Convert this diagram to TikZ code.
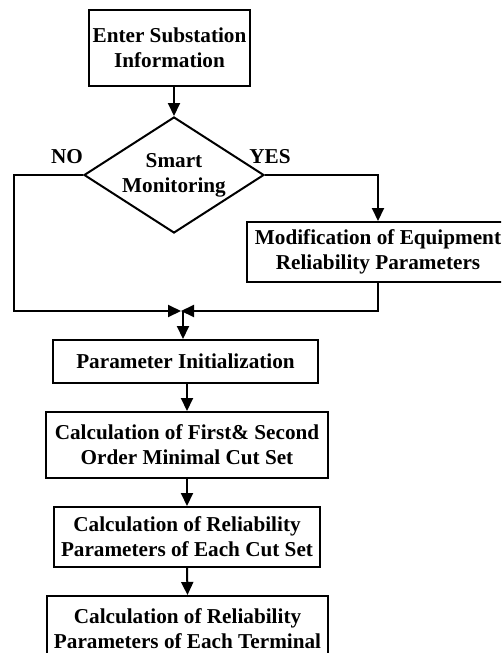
\documentclass[tikz,border=0pt]{standalone}
\usepackage{fontspec}
\setmainfont{Liberation Serif}
\usetikzlibrary{arrows.meta,shapes.geometric}
\begin{document}
\begin{tikzpicture}[x=1pt,y=-1pt,
  every node/.style={font=\bfseries\fontsize{21.2}{25}\selectfont},
  box/.style={draw, line width=2pt, align=center, inner sep=0pt},
  conn/.style={line width=2pt},
  arr/.style={line width=2pt, -{Triangle[length=13pt,width=12pt]}}]
\useasboundingbox (0,0) rectangle (501,653);
\clip (0,0) rectangle (501,653);
\node[box, minimum width=161pt, minimum height=76pt] (b1) at (169.5,48) {Enter Substation\\Information};
\node[diamond, draw, line width=2pt, minimum width=180pt, minimum height=116pt, inner sep=0pt] (d) at (174,175) {};
\node[align=center, inner sep=0pt] (dt) at (174,175.5) {Smart\\Monitoring};
\node[inner sep=0pt] (no) at (67,157) {NO};
\node[inner sep=0pt] (yes) at (270,157) {YES};
\node[box, minimum width=262pt, minimum height=60pt] (mod) at (378,252) {Modification of Equipment\\Reliability Parameters};
\coordinate (J) at (183,311);
\coordinate (L) at (14,175);
\node[box, minimum width=265pt, minimum height=43pt] (pinit) at (185.5,361.5) {Parameter Initialization};
\node[box, minimum width=282pt, minimum height=66pt] (c1) at (187,445) {Calculation of First\& Second\\Order Minimal Cut Set};
\node[box, minimum width=266pt, minimum height=60pt] (c2) at (187,537) {Calculation of Reliability\\Parameters of Each Cut Set};
\node[box, minimum width=281pt, minimum height=65pt] (c3) at (187.5,628.5) {Calculation of Reliability\\Parameters of Each Terminal};
\draw[arr] (b1.south -| d.north) -- (d.north);
\draw[arr, shorten >=2pt] (d.west) -- (L) |- (J);
\draw[arr] (d.east) -| (mod.north);
\draw[arr, shorten >=-2pt] (mod.south) |- (J);
\draw[arr] (J) -- (J |- pinit.north);
\draw[arr] (pinit.south -| c1.north) -- (c1.north);
\draw[arr] (c1.south) -- (c2.north);
\draw[arr] (c2.south) -- (c3.north);
\end{tikzpicture}
\end{document}
